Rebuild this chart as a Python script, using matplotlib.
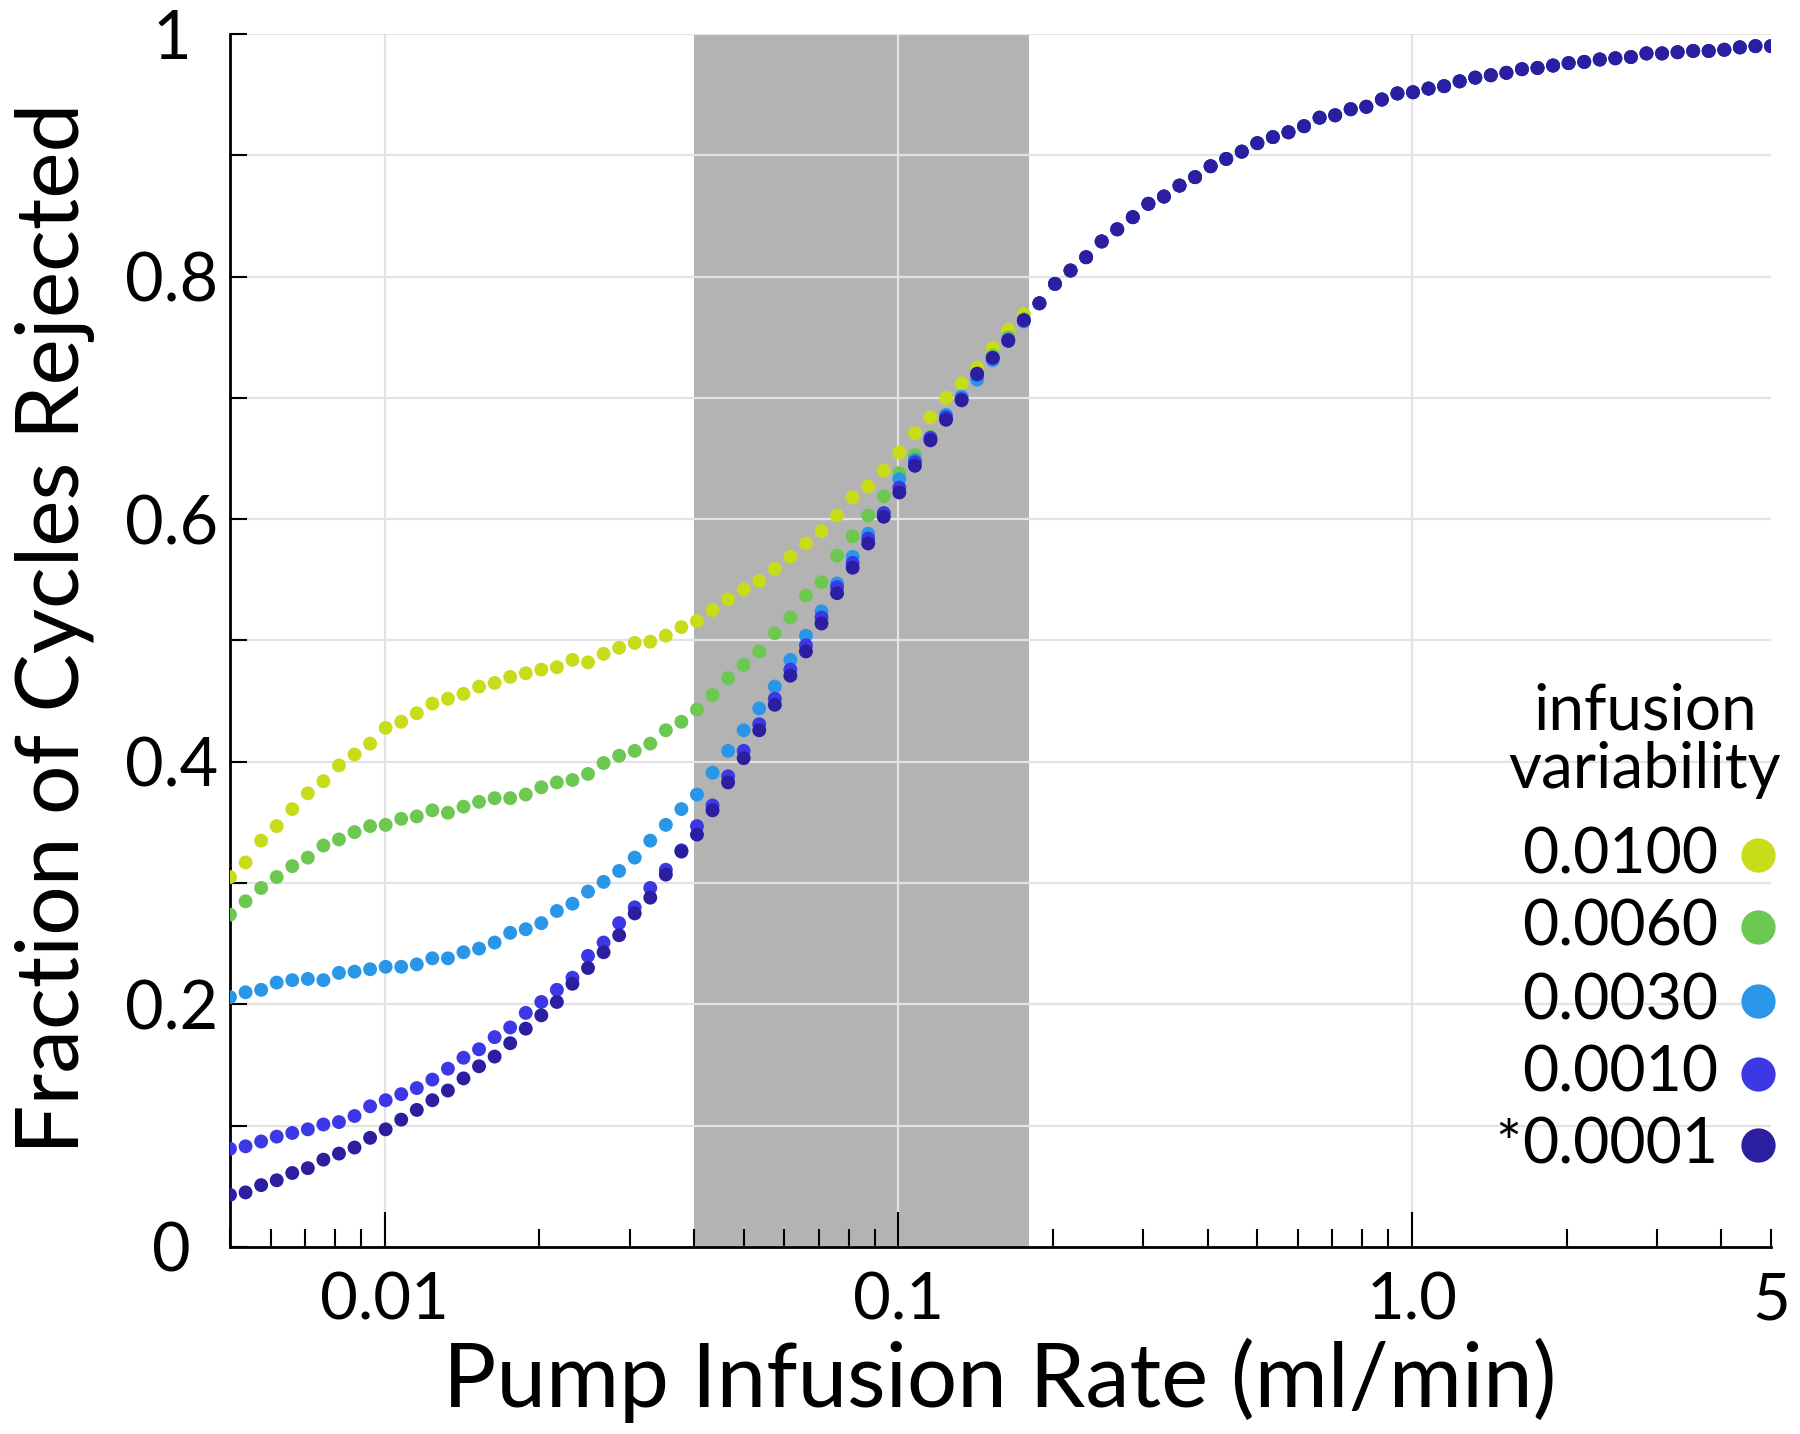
import numpy as np
import matplotlib
matplotlib.use("Agg")
from matplotlib import pyplot as plt
from matplotlib.ticker import LogLocator, NullFormatter, MultipleLocator

plt.rcParams['font.family'] = ['Lato', 'DejaVu Sans']

# pump rates: 100 log-spaced samples from 0.005 to 5 ml/min
rates = np.geomspace(0.005, 5, 100)

variability = ["0.0100", "0.0060", "0.0030", "0.0010", "0.0001"]
colors = ["#c9dc1a", "#6cc850", "#2a96e8", "#3c38e6", "#2c1ea0"]

# low-rate part of each curve (first 52 samples)
frac_0100 = [0.305, 0.317, 0.335, 0.347, 0.361, 0.374, 0.384, 0.397, 0.406, 0.415,
             0.428, 0.433, 0.440, 0.448, 0.452, 0.456, 0.462, 0.465, 0.470, 0.473,
             0.476, 0.478, 0.484, 0.482, 0.489, 0.494, 0.498, 0.499, 0.504, 0.511,
             0.516, 0.525, 0.534, 0.542, 0.549, 0.559, 0.569, 0.580, 0.590, 0.603,
             0.618, 0.627, 0.640, 0.655, 0.671, 0.684, 0.700, 0.712, 0.725, 0.741,
             0.756, 0.769]
frac_0060 = [0.274, 0.285, 0.296, 0.305, 0.314, 0.321, 0.331, 0.336, 0.342, 0.347,
             0.348, 0.353, 0.355, 0.360, 0.358, 0.363, 0.367, 0.370, 0.370, 0.373,
             0.379, 0.383, 0.385, 0.390, 0.399, 0.405, 0.409, 0.415, 0.426, 0.433,
             0.443, 0.455, 0.469, 0.480, 0.491, 0.506, 0.519, 0.537, 0.548, 0.570,
             0.586, 0.603, 0.619, 0.638, 0.653, 0.668, 0.684, 0.699, 0.719, 0.735,
             0.750, 0.765]
frac_0030 = [0.206, 0.210, 0.212, 0.218, 0.220, 0.221, 0.220, 0.226, 0.227, 0.229,
             0.231, 0.231, 0.233, 0.238, 0.238, 0.243, 0.246, 0.251, 0.259, 0.262,
             0.267, 0.277, 0.283, 0.293, 0.301, 0.310, 0.321, 0.335, 0.348, 0.361,
             0.373, 0.391, 0.409, 0.426, 0.444, 0.462, 0.484, 0.504, 0.524, 0.547,
             0.569, 0.588, 0.605, 0.633, 0.649, 0.666, 0.686, 0.701, 0.715, 0.731,
             0.747, 0.763]
frac_0010 = [0.081, 0.083, 0.087, 0.091, 0.094, 0.097, 0.101, 0.103, 0.108, 0.116,
             0.121, 0.126, 0.131, 0.138, 0.147, 0.156, 0.163, 0.173, 0.181, 0.193,
             0.202, 0.212, 0.222, 0.240, 0.251, 0.267, 0.280, 0.296, 0.311, 0.327,
             0.347, 0.364, 0.388, 0.409, 0.431, 0.452, 0.476, 0.496, 0.519, 0.544,
             0.564, 0.584, 0.605, 0.626, 0.647, 0.667, 0.684, 0.699, 0.719, 0.733,
             0.748, 0.764]
frac_0001 = [0.043, 0.045, 0.051, 0.055, 0.061, 0.065, 0.072, 0.077, 0.082, 0.090,
             0.097, 0.105, 0.113, 0.121, 0.129, 0.139, 0.149, 0.157, 0.168, 0.180,
             0.191, 0.202, 0.217, 0.230, 0.243, 0.257, 0.275, 0.288, 0.307, 0.326,
             0.340, 0.360, 0.383, 0.403, 0.426, 0.447, 0.471, 0.491, 0.514, 0.539,
             0.560, 0.580, 0.602, 0.622, 0.644, 0.665, 0.682, 0.698, 0.720, 0.733,
             0.747, 0.764]

# above ~0.2 ml/min all curves lie on top of each other (last 48 samples)
frac_shared = [0.778, 0.794, 0.805, 0.816, 0.829, 0.839, 0.849,
               0.860, 0.866, 0.875, 0.882, 0.891, 0.897, 0.903, 0.910, 0.915, 0.919,
               0.924, 0.931, 0.933, 0.938, 0.940, 0.946, 0.951, 0.952, 0.955, 0.957,
               0.961, 0.964, 0.966, 0.968, 0.971, 0.972, 0.974, 0.976, 0.977, 0.979,
               0.980, 0.981, 0.984, 0.984, 0.985, 0.986, 0.986, 0.987, 0.989, 0.990,
               0.990]

heads = [frac_0100, frac_0060, frac_0030, frac_0010, frac_0001]

shade_lo, shade_hi = 0.04, 0.18

W, H = 1800, 1434
fig = plt.figure(figsize=(W / 100, H / 100), dpi=100)
ax = fig.add_axes([230 / W, 1 - 1247 / H, 1541 / W, 1213 / H])

ax.axvspan(shade_lo, shade_hi, color="#b3b3b3", lw=0, zorder=0)

for k, head in enumerate(heads):
    ys = np.array(head + frac_shared)
    ax.scatter(rates, ys, s=100, color=colors[k], edgecolors="none", zorder=3 + k)

ax.set_xscale("log")
ax.set_xlim(0.005, 5)
ax.set_ylim(0, 1)

ax.set_axisbelow(True)
ax.xaxis.set_major_locator(plt.FixedLocator([0.01, 0.1, 1.0, 5]))
ax.set_xticklabels(["0.01", "0.1", "1.0", "5"])
ax.xaxis.set_minor_locator(LogLocator(base=10, subs=np.arange(2, 10)))
ax.xaxis.set_minor_formatter(NullFormatter())
ax.set_yticks(np.arange(0, 1.01, 0.2))
ax.set_yticklabels(["0", "0.2", "0.4", "0.6", "0.8", "1"])
ax.yaxis.set_minor_locator(MultipleLocator(0.1))

ax.grid(True, which="major", axis="x", color="#e3e3e3", lw=1.6)
ax.grid(True, which="both", axis="y", color="#e3e3e3", lw=1.6)
# no vertical grid line at 5
ax.get_xgridlines()[-1].set_visible(False)

for s in ["top", "right"]:
    ax.spines[s].set_visible(False)
ax.spines["left"].set_linewidth(2)
ax.spines["bottom"].set_linewidth(2)

ax.tick_params(axis="x", which="major", direction="in", length=25, width=1.5,
               labelsize=47, pad=18)
ax.tick_params(axis="x", which="minor", direction="in", length=13, width=1.5)
ax.tick_params(axis="y", which="both", direction="in", length=12, width=1.5,
               labelsize=48, pad=42)
ax.xaxis.get_major_ticks()[-1].tick1line.set_markersize(13)
for lab in ax.get_yticklabels():
    lab.set_horizontalalignment("center")

fig.text(55 / W, 1 - 628 / H, "Fraction of Cycles Rejected", rotation=90,
         ha="center", va="center", fontsize=63)
fig.text(1000 / W, 1 - 1380 / H, "Pump Infusion Rate (ml/min)",
         ha="center", va="center", fontsize=64)

# legend, drawn by hand so the star can hang in front of 0.0001
fig.text(1645 / W, 1 - 712 / H, "infusion", ha="center", va="center", fontsize=46)
fig.text(1645 / W, 1 - 770 / H, "variability", ha="center", va="center", fontsize=46)
rows = [855, 927, 1001, 1074, 1145]
for k, lab in enumerate(variability):
    yy = 1 - rows[k] / H
    fig.text(1718 / W, yy, lab, ha="right", va="center", fontsize=45)
    ax.scatter([(1758 - 230) / 1541], [(1247 - rows[k]) / 1213], s=560,
               color=colors[k], transform=ax.transAxes, clip_on=False, zorder=10)
fig.text(1508 / W, 1 - 1165 / H, "*", ha="center", va="baseline", fontsize=44)

fig.savefig("out.png", dpi=100)
